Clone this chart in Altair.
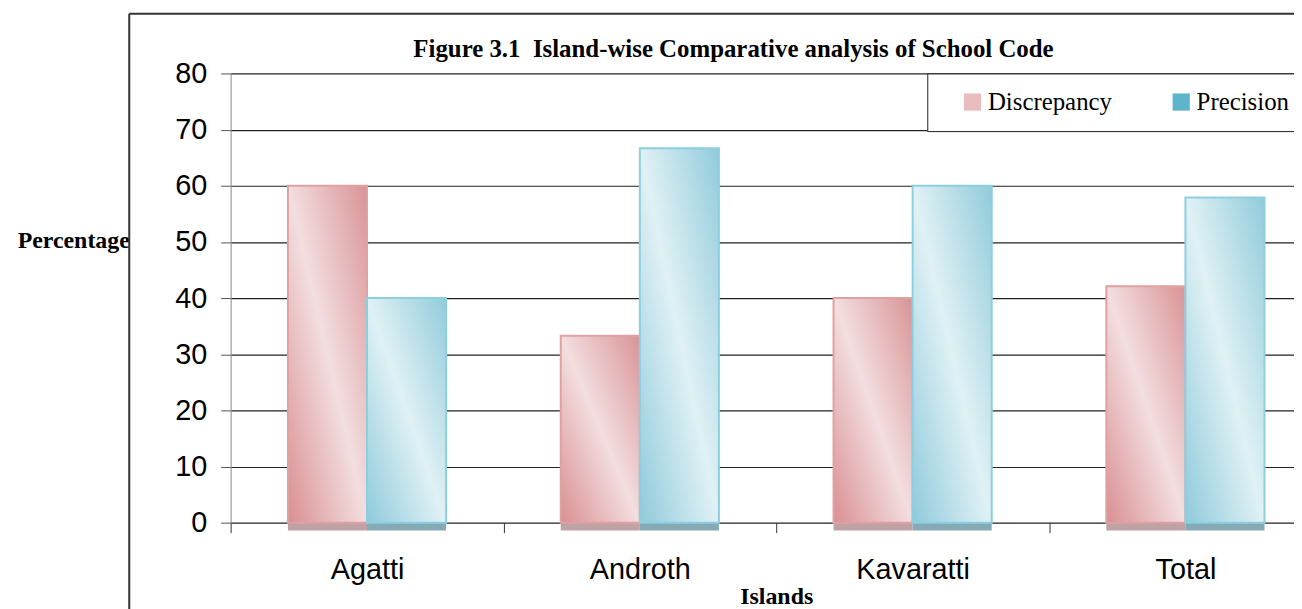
import altair as alt
import pandas as pd

islands = ["Agatti", "Androth", "Kavaratti", "Total"]
series = ["Discrepancy", "Precision"]
discrepancy = [60, 33.3, 40, 42.1]
precision = [40, 66.7, 60, 57.9]
y_ticks = [0, 10, 20, 30, 40, 50, 60, 70, 80]

rows = []
for i, isl in enumerate(islands):
    rows.append({"island": isl, "series": "Discrepancy", "value": discrepancy[i]})
    rows.append({"island": isl, "series": "Precision", "value": precision[i]})
df = pd.DataFrame(rows)

x_enc = alt.X(
    "island:N",
    sort=islands,
    scale=alt.Scale(range=[0, 1098], paddingInner=0, paddingOuter=0),
    axis=alt.Axis(
        title="Islands",
        tickBand="extent",
        labelAngle=0,
        labelFont="Liberation Sans",
        labelFontSize=29,
        labelColor="black",
        labelPadding=23,
        tickColor="#333333",
        tickSize=10,
        domain=False,
        titleFont="Liberation Serif",
        titleFontSize=24,
        titleFontWeight="bold",
        titleColor="black",
        titleBaseline="alphabetic",
        titleY=81,
    ),
)
xoff_enc = alt.XOffset(
    "series:N", sort=series, scale=alt.Scale(paddingInner=0, paddingOuter=0.7247)
)
y_enc = alt.Y(
    "value:Q",
    scale=alt.Scale(domain=[0, 80], nice=False),
    axis=alt.Axis(
        values=y_ticks,
        title="Percentage",
        titleAngle=0,
        titleAlign="right",
        titleBaseline="alphabetic",
        titleX=-102,
        titleY=175,
        titleFont="Liberation Serif",
        titleFontSize=24,
        titleFontWeight="bold",
        titleColor="black",
        labelFont="Liberation Sans",
        labelFontSize=29,
        labelColor="black",
        labelPadding=14,
        tickSize=10,
        tickColor="#555555",
        domainColor="#888888",
        grid=True,
        gridColor="#222222",
        gridWidth=1.2,
    ),
)

base = alt.Chart(df)

shadow = base.mark_bar(yOffset=8).encode(
    x=x_enc,
    xOffset=xoff_enc,
    y=y_enc,
    fill=alt.condition(
        alt.datum.series == "Discrepancy", alt.value("#bfa3a4"), alt.value("#86aab5")
    ),
)

solid = base.mark_bar().encode(
    x=x_enc,
    xOffset=xoff_enc,
    y=y_enc,
    color=alt.Color(
        "series:N",
        sort=series,
        title=None,
        scale=alt.Scale(domain=series, range=["#e9bcbe", "#5db5cc"]),
        legend=alt.Legend(
            orient="none",
            legendX=701,
            legendY=0,
            direction="horizontal",
            labelFont="Liberation Serif",
            labelFontSize=25,
            labelColor="black",
            symbolType="square",
            symbolSize=300,
            symbolStrokeWidth=0,
            strokeColor="#222222",
            fillColor="white",
            padding=16,
            columnPadding=40,
            labelOffset=3,
            symbolOffset=17,
        ),
    ),
)

grad_d = alt.LinearGradient(
    gradient="linear",
    stops=[
        alt.GradientStop(offset=0, color="#d98f92"),
        alt.GradientStop(offset=0.5, color="#f3dedf"),
        alt.GradientStop(offset=1, color="#d99396"),
    ],
    x1=0, y1=1, x2=1, y2=0,
)
grad_p = alt.LinearGradient(
    gradient="linear",
    stops=[
        alt.GradientStop(offset=0, color="#8fcadb"),
        alt.GradientStop(offset=0.5, color="#e0f1f5"),
        alt.GradientStop(offset=1, color="#91cbdb"),
    ],
    x1=0, y1=1, x2=1, y2=0,
)

bars_d = base.transform_filter(alt.datum.series == "Discrepancy").mark_bar(
    fill=grad_d, stroke="#e0a1a3", strokeWidth=2
).encode(x=x_enc, xOffset=xoff_enc, y=y_enc)
bars_p = base.transform_filter(alt.datum.series == "Precision").mark_bar(
    fill=grad_p, stroke="#8ccfde", strokeWidth=2
).encode(x=x_enc, xOffset=xoff_enc, y=y_enc)

deco = alt.Chart(pd.DataFrame({"k": [0]}))
frame_top = deco.mark_rule(color="#333333", strokeWidth=2).encode(
    x=alt.value(-102), x2=alt.value(1070), y=alt.value(-60)
)
frame_left = deco.mark_rule(color="#333333", strokeWidth=2).encode(
    x=alt.value(-102), y=alt.value(-60), y2=alt.value(540)
)

chart = (
    alt.layer(shadow, solid, bars_d, bars_p, frame_top, frame_left)
    .properties(
        width=1070,
        height=452,
        autosize=alt.AutoSizeParams(type="none"),
        padding={"left": 224, "top": 64, "right": 0, "bottom": 85},
        title=alt.TitleParams(
            text="Figure 3.1\u00a0 Island-wise Comparative analysis of School Code",
            font="Liberation Serif",
            fontSize=25,
            fontWeight="bold",
            color="black",
            anchor="middle",
            dx=-29,
            dy=55,
            offset=6,
        ),
    )
    .configure_view(stroke=None)
)

chart.save("out.html", embed_options={"renderer": "svg", "actions": False})
